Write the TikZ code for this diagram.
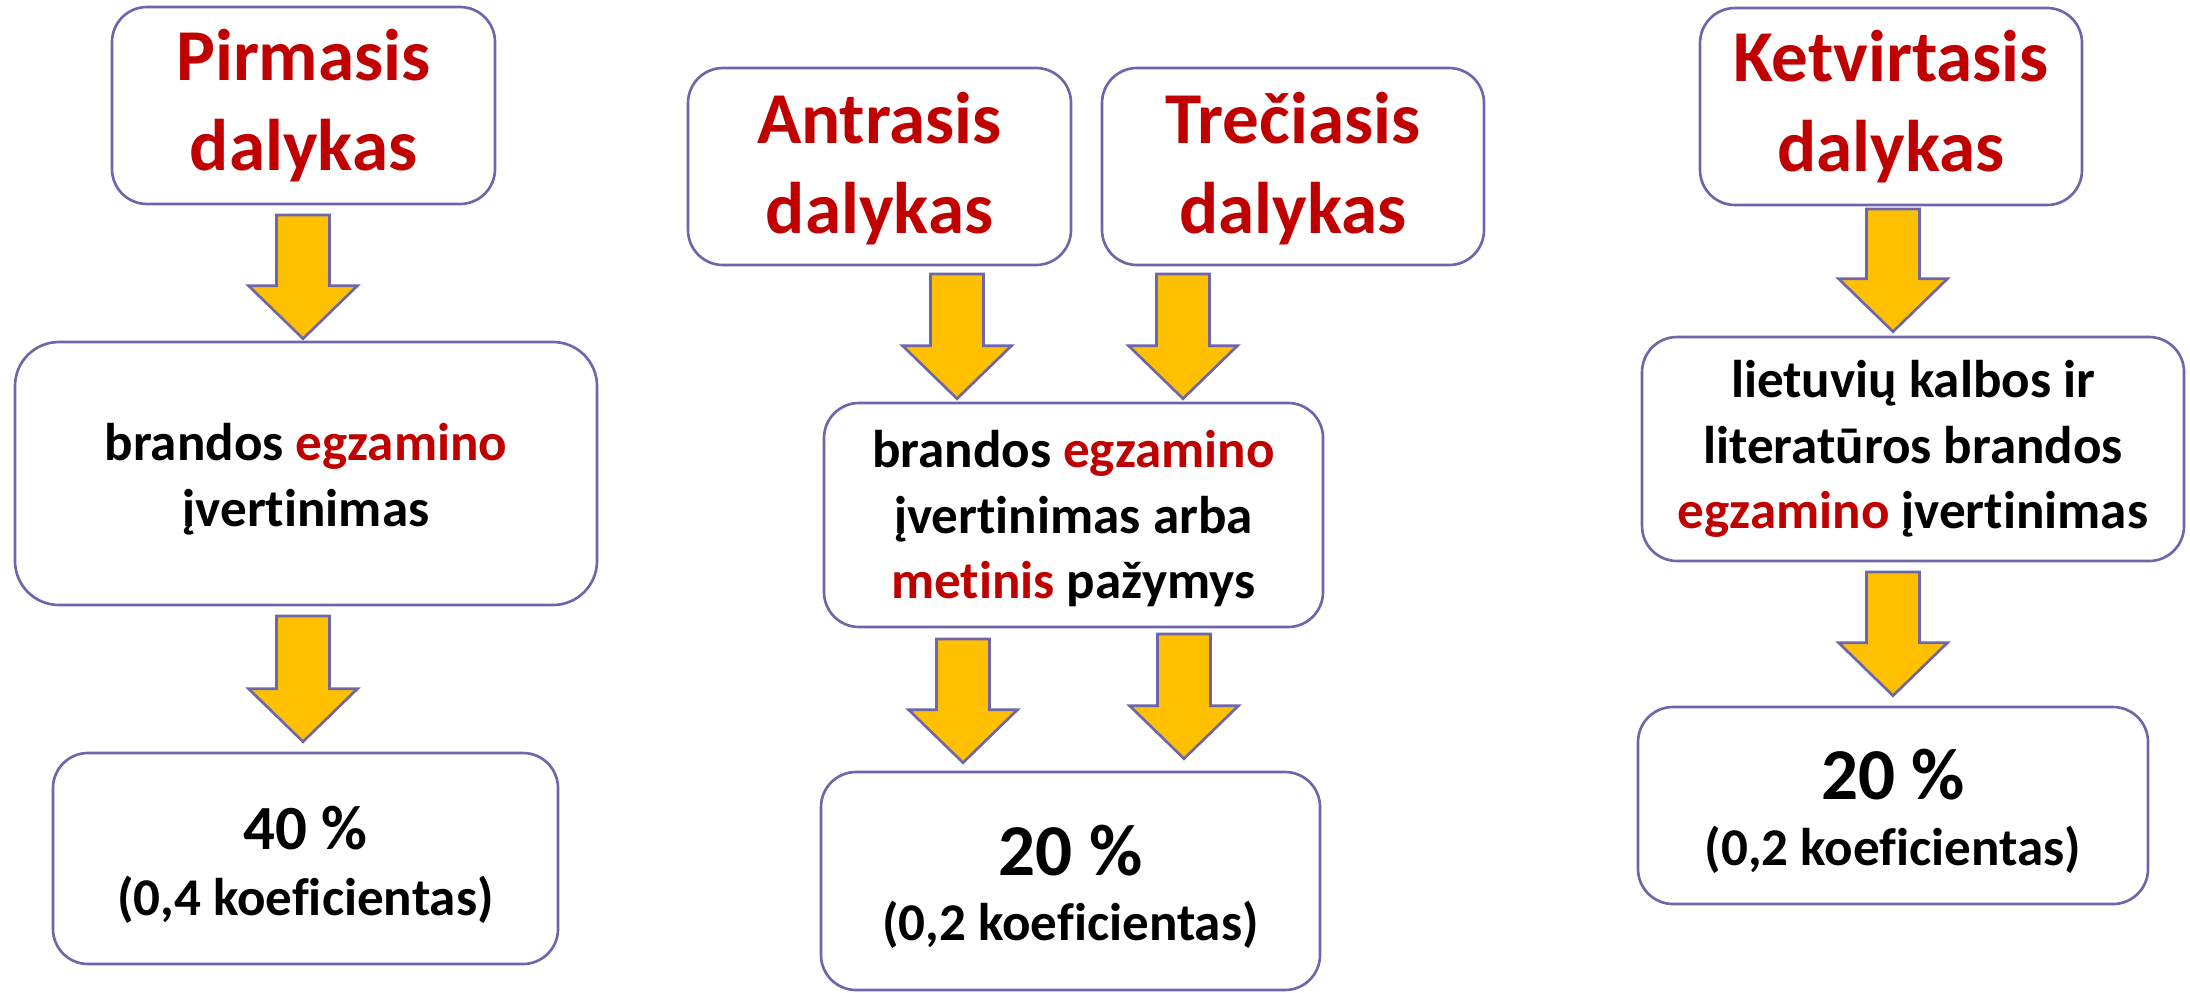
\documentclass[tikz,border=0pt]{standalone}
\usepackage{fontspec}
\setmainfont{Carlito}[Ligatures={NoCommon,NoContextual}]
\usetikzlibrary{calc}
\definecolor{raudona}{RGB}{192,0,0}
\definecolor{remas}{RGB}{110,102,170}
\definecolor{auksine}{RGB}{255,192,0}
\tikzstyle{langas}=[draw=remas, line width=0.75pt, fill=white, rounded corners=3.5mm, inner sep=0pt, align=center]
\tikzstyle{dalykas}=[langas, text=raudona, font=\bfseries\fontsize{20.8}{25.6}\selectfont]
\tikzstyle{tekstas}=[langas, font=\bfseries\fontsize{15.1}{18.6}\selectfont]
\tikzstyle{rodykle}=[draw=remas, line width=0.75pt, fill=auksine]
\newcommand{\raud}[1]{\textcolor{raudona}{#1}}
\newcommand{\aukstis}[1]{\rule{0pt}{#1}}
\newcommand{\rodyk}[2]{\filldraw[rodykle] ($(#1)+(-26.5,0)$)--($(#1)+(26.5,0)$)--($(#2)+(26.5,-53)$)--($(#2)+(54.5,-53)$)--(#2)--($(#2)+(-54.5,-53)$)--($(#2)+(-26.5,-53)$)--cycle;}

\begin{document}
\begin{tikzpicture}[x=0.1mm,y=-0.1mm]
\useasboundingbox ( 0 , 0 ) rectangle ( 2190 , 992 );
\node[dalykas, minimum width=38.3mm, minimum height=19.7mm] (pirm) at ( 303.5 , 105.5 ){Pirmasis\\dalykas};
\node[tekstas, minimum width=58.2mm, minimum height=26.3mm, rounded corners=4.4mm] (egz1) at ( 306 , 473.5 ){\aukstis{4.9mm}brandos \raud{egzamino}\\įvertinimas};
\node[tekstas, minimum width=50.5mm, minimum height=21.1mm] (proc1) at ( 305.5 , 858.5 ){\aukstis{5.6mm}{\fontsize{17.9}{18.6}\selectfont 40 \%}\\(0,4 koeficientas)};
\node[dalykas, minimum width=38.3mm, minimum height=19.7mm] (antr) at ( 879.5 , 166.5 ){\aukstis{5.6mm}Antrasis\\dalykas};
\node[dalykas, minimum width=38.2mm, minimum height=19.7mm] (trec) at ( 1293 , 166.5 ){\aukstis{5.6mm}Trečiasis\\dalykas};
\node[tekstas, minimum width=49.9mm, minimum height=22.4mm] (egz2) at ( 1073.5 , 515 ){\aukstis{4.5mm}brandos \raud{egzamino}\\įvertinimas arba\\\raud{metinis} pažymys};
\node[tekstas, minimum width=49.9mm, minimum height=21.8mm] (proc2) at ( 1070.5 , 881 ){\aukstis{6.2mm}{\fontsize{20.8}{18.6}\selectfont 20 \%}\\(0,2 koeficientas)};
\node[dalykas, minimum width=38.2mm, minimum height=19.7mm] (ketv) at ( 1891 , 106.5 ){Ketvirtasis\\dalykas};
\node[tekstas, minimum width=54.2mm, minimum height=22.4mm] (egz3) at ( 1913 , 449 ){lietuvių kalbos ir\\literatūros brandos\\\raud{egzamino} įvertinimas};
\node[tekstas, minimum width=51mm, minimum height=19.7mm] (proc3) at ( 1893 , 805.5 ){\aukstis{6.2mm}{\fontsize{20.8}{18.6}\selectfont 20 \%}\\(0,2 koeficientas)};
\coordinate (v1) at ( 303 , 215 );
\coordinate (s1) at ($(v1 |- egz1.north)+(0,-2)$);
\coordinate (v2) at ( 303 , 616 );
\coordinate (s2) at ($(v2 |- proc1.north)+(0,-10)$);
\coordinate (v3) at ( 957 , 274 );
\coordinate (s3) at ($(v3 |- egz2.north)+(0,-3)$);
\coordinate (v4) at ( 1183 , 274 );
\coordinate (s4) at ($(v4 |- egz2.north)+(0,-3)$);
\coordinate (v5) at ( 963 , 639 );
\coordinate (s5) at ($(v5 |- proc2.north)+(0,-8)$);
\coordinate (v6) at ( 1184 , 634 );
\coordinate (s6) at ($(v6 |- proc2.north)+(0,-12)$);
\coordinate (v7) at ( 1893 , 209 );
\coordinate (s7) at ($(v7 |- egz3.north)+(0,-4)$);
\coordinate (v8) at ( 1893 , 572 );
\coordinate (s8) at ($(v8 |- proc3.north)+(0,-10)$);
\rodyk{v1}{s1}
\rodyk{v2}{s2}
\rodyk{v3}{s3}
\rodyk{v4}{s4}
\rodyk{v5}{s5}
\rodyk{v6}{s6}
\rodyk{v7}{s7}
\rodyk{v8}{s8}
\end{tikzpicture}
\end{document}
